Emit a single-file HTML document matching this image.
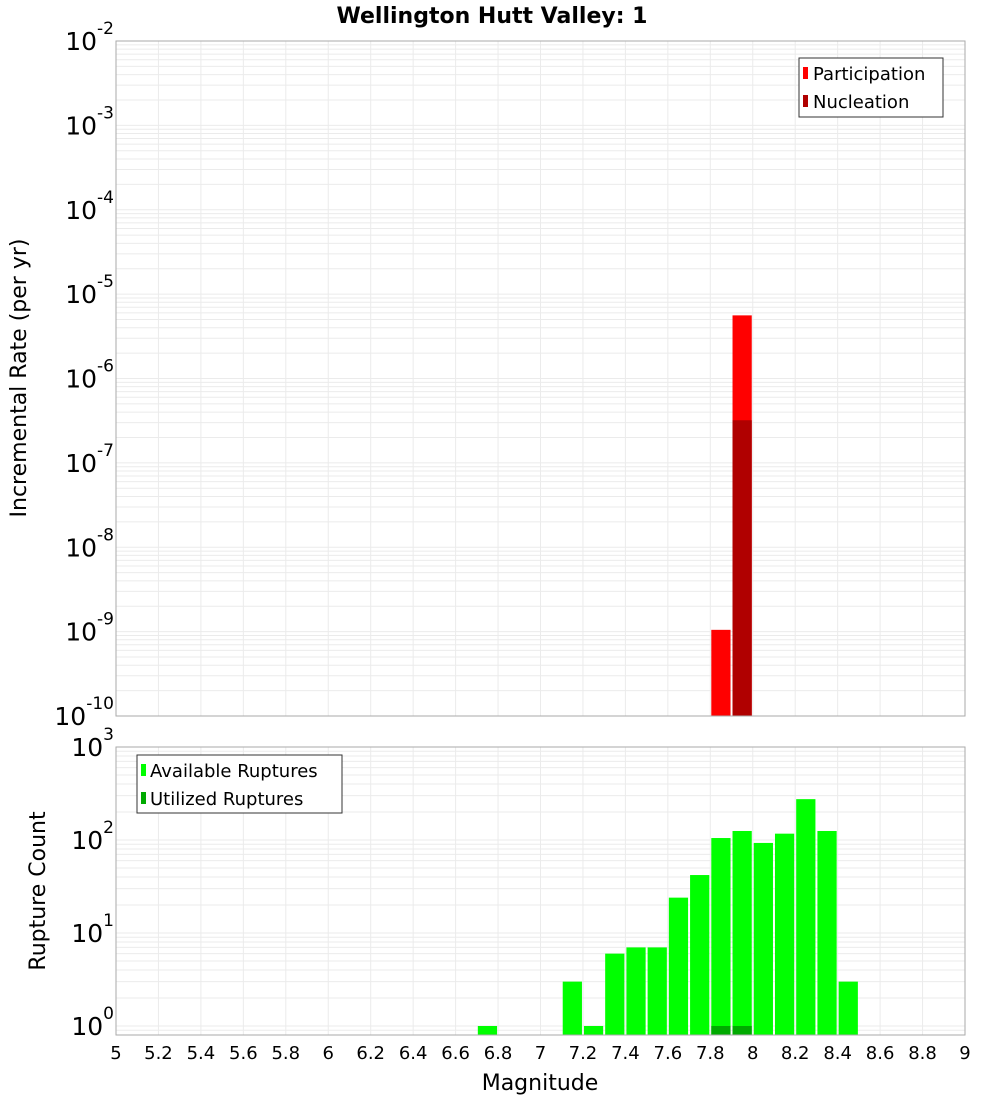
<!DOCTYPE html>
<html><head><meta charset="utf-8"><style>
body{margin:0;background:#fff}
svg{display:block;font-family:"DejaVu Sans","Liberation Sans",sans-serif}
</style></head><body>
<svg id="c" width="1000" height="1100" xmlns="http://www.w3.org/2000/svg">
<text x="492" y="23" text-anchor="middle" font-weight="bold" font-size="22">Wellington Hutt Valley: 1</text>
<text transform="translate(26,378) rotate(-90)" text-anchor="middle" font-size="22">Incremental Rate (per yr)</text>
<text transform="translate(45,891) rotate(-90)" text-anchor="middle" font-size="22">Rupture Count</text>
<text x="540" y="1090" text-anchor="middle" font-size="22">Magnitude</text>
<g id="grid"></g><g id="bars"></g><g id="axes"></g>
<g>
<rect x="799" y="58" width="144" height="59" fill="#fff" stroke="#333"/>
<rect x="803" y="67" width="5" height="12" fill="#ff0000"/>
<text x="813" y="80" font-size="18">Participation</text>
<rect x="803" y="95" width="5" height="12" fill="#b00000"/>
<text x="813" y="108" font-size="18">Nucleation</text>
</g>
<g>
<rect x="137" y="755" width="205" height="58" fill="#fff" stroke="#333"/>
<rect x="141" y="764" width="5" height="12" fill="#00ff00"/>
<text x="150" y="777" font-size="18">Available Ruptures</text>
<rect x="141" y="792" width="5" height="12" fill="#00aa00"/>
<text x="150" y="805" font-size="18">Utilized Ruptures</text>
</g>
</svg>
<script>
const xTicks=["5","5.2","5.4","5.6","5.8","6","6.2","6.4","6.6","6.8","7","7.2","7.4","7.6","7.8","8","8.2","8.4","8.6","8.8","9"];
const topExps=[-2,-3,-4,-5,-6,-7,-8,-9,-10];
const botExps=[3,2,1,0];
const rateMags=[7.85,7.95];
const partRates=[1.05e-9,5.6e-6];
const nuclMags=[7.95];
const nuclRates=[3.2e-7];
const countMags=[6.75,7.15,7.25,7.35,7.45,7.55,7.65,7.75,7.85,7.95,8.05,8.15,8.25,8.35,8.45];
const availCounts=[1,3,1,6,7,7,24,42,105,125,93,117,275,125,3];
const utilMags=[7.85,7.95];
const utilCounts=[1,1];
const NS="http://www.w3.org/2000/svg";
const L=116,R=965,T1=41,B1=716,T2=747,B2=1035;
const X=m=>L+(m-5)/4*(R-L);
const Y1=v=>T1+(-2-Math.log10(v))*(B1-T1)/8;
const Y2=v=>T2+(3-Math.log10(v))*93;
function el(p,t,a){const e=document.createElementNS(NS,t);for(const k in a)e.setAttribute(k,a[k]);document.getElementById(p).appendChild(e);return e;}
// grids
for(const t of xTicks){const x=X(+t);
 let g=el('grid','line',{x1:x,x2:x,y1:T1,y2:B1,stroke:'#ebebeb'});
 
 
 g=el('grid','line',{x1:x,x2:x,y1:T2,y2:B2,stroke:'#ebebeb'});
 
 
}
for(let e=-10;e<-2;e++)for(let k=1;k<10;k++){const y=Y1(k*Math.pow(10,e));
 const g=el('grid','line',{x1:L,x2:R,y1:y,y2:y,stroke:'#ebebeb'});
 
 }
for(let e=-1;e<3;e++)for(let k=1;k<10;k++){const y=Y2(k*Math.pow(10,e));if(y>B2||y<T2)continue;
 const g=el('grid','line',{x1:L,x2:R,y1:y,y2:y,stroke:'#ebebeb'});
 
 }
function bar(m,v,Y,base,fill,name){const x0=X(m-0.05)+1,x1=X(m+0.05)-1;const y=Math.max(Y(v),0);
 const b=el('bars','rect',{x:x0,y:y,width:x1-x0,height:base-y,fill:fill});
 
 }
rateMags.forEach((m,i)=>bar(m,partRates[i],Y1,B1,'#ff0000','participation-bar'));
nuclMags.forEach((m,i)=>bar(m,nuclRates[i],Y1,B1,'#b00000','nucleation-bar'));
countMags.forEach((m,i)=>bar(m,availCounts[i],Y2,B2,'#00ff00','available-ruptures-bar'));
utilMags.forEach((m,i)=>bar(m,utilCounts[i],Y2,B2,'#00aa00','utilized-ruptures-bar'));
// frames
let f=el('axes','rect',{x:L,y:T1,width:R-L,height:B1-T1,fill:'none',stroke:'#aaa'});


f=el('axes','rect',{x:L,y:T2,width:R-L,height:B2-T2,fill:'none',stroke:'#aaa'});


for(const t of xTicks){const tx=el('axes','text',{x:X(+t),y:1059,'text-anchor':'middle','font-size':18});tx.textContent=t;
 
 }
function ylab(y,e,name){const tx=el('axes','text',{x:114,y:y+9,'text-anchor':'end','font-size':25});
 
 
 const a=document.createElementNS(NS,'tspan');a.textContent='10';tx.appendChild(a);
 const b=document.createElementNS(NS,'tspan');b.setAttribute('dy','-16');b.setAttribute('font-size','17');b.textContent=String(e);tx.appendChild(b);}
topExps.forEach(e=>ylab(Y1(Math.pow(10,e)),e,'top-y-tick-label'));
botExps.forEach(e=>ylab(Y2(Math.pow(10,e)),e,'bottom-y-tick-label'));
</script>
</body></html>
